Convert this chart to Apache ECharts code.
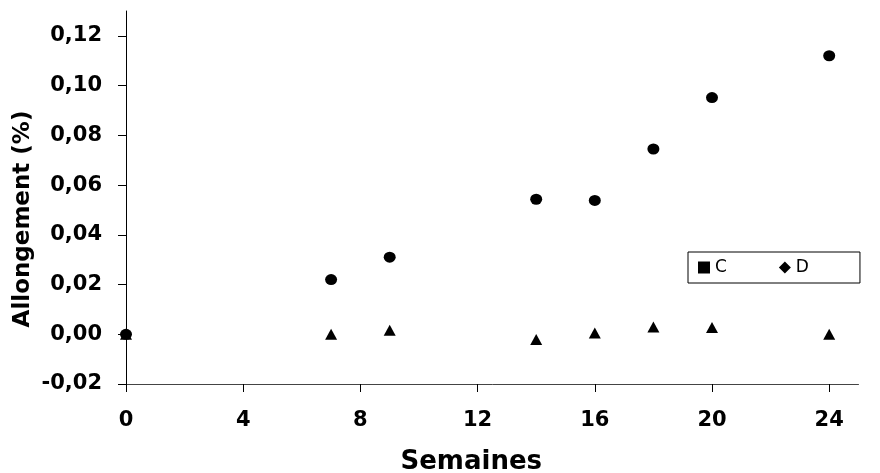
<!DOCTYPE html>
<html>
<head>
<meta charset="utf-8">
<script src="https://cdn.jsdelivr.net/npm/echarts@6/dist/echarts.min.js"></script>
<style>
html,body{margin:0;padding:0;background:#fff;}
#chart{width:880px;height:473px;}
</style>
</head>
<body>
<div id="chart"></div>
<script>
// Data
const weeks = [0, 7, 9, 14, 16, 18, 20, 24];
const seriesC = [0, 0.022, 0.031, 0.0543, 0.0538, 0.0745, 0.0952, 0.112];
const seriesD = [0, 0.0, 0.0016, -0.0021, 0.0005, 0.0029, 0.0027, 0.0];
const xTicks = [0, 4, 8, 12, 16, 20, 24];
const yTicks = [-0.02, 0, 0.02, 0.04, 0.06, 0.08, 0.10, 0.12];
const seriesNames = ['C', 'D'];

const FONT = 'DejaVu Sans';

function pairs(xs, ys) {
  return xs.map((x, i) => [x, ys[i]]);
}

const chart = echarts.init(document.getElementById('chart'), null, {renderer: 'canvas'});
chart.setOption({
  animation: false,
  backgroundColor: '#ffffff',
  grid: {left: 126, right: 21.5, top: 11, bottom: 89, containLabel: false, outerBoundsMode: 'none'},
  legend: {
    left: 688, top: 252,
    orient: 'horizontal',
    padding: [7, 51, 7, 10],
    itemGap: 52,
    itemWidth: 12, itemHeight: 12,
    borderColor: '#000', borderWidth: 1,
    backgroundColor: '#fff',
    textStyle: {fontFamily: FONT, fontSize: 17, color: '#000'},
    data: [
      {name: seriesNames[0], icon: 'rect'},
      {name: seriesNames[1], icon: 'diamond'}
    ]
  },
  xAxis: {
    type: 'value', min: 0, max: 25,
    name: 'Semaines',
    nameLocation: 'middle', nameGap: 65, nameMoveOverlap: false,
    nameTextStyle: {fontFamily: FONT, fontWeight: 'bold', fontSize: 26, color: '#000', padding: [0, 42, 0, 0]},
    axisLine: {show: true, onZero: false, lineStyle: {color: '#444', width: 1}},
    axisTick: {show: true, length: 8, inside: false, customValues: xTicks, lineStyle: {color: '#000'}},
    axisLabel: {
      customValues: xTicks, margin: 26,
      fontFamily: FONT, fontWeight: 'bold', fontSize: 21, color: '#000',
      formatter: v => String(v)
    },
    splitLine: {show: false}
  },
  yAxis: {
    type: 'value', min: -0.02, max: 0.13,
    name: 'Allongement (%)',
    nameLocation: 'middle', nameGap: 91, nameMoveOverlap: false,
    nameTextStyle: {fontFamily: FONT, fontWeight: 'bold', fontSize: 23, color: '#000', padding: [0, 43, 0, 0]},
    axisLine: {show: true, onZero: false, lineStyle: {color: '#000', width: 1}},
    axisTick: {show: true, length: 8, inside: false, customValues: yTicks, lineStyle: {color: '#000'}},
    axisLabel: {
      customValues: yTicks, margin: 24,
      fontFamily: FONT, fontWeight: 'bold', fontSize: 21, color: '#000',
      formatter: v => v.toFixed(2).replace('.', ',')
    },
    splitLine: {show: false}
  },
  series: [
    {
      name: seriesNames[0], type: 'scatter',
      symbol: 'circle', symbolSize: [12, 11],
      itemStyle: {color: '#000', opacity: 1},
      data: pairs(weeks, seriesC)
    },
    {
      name: seriesNames[1], type: 'scatter',
      symbol: 'triangle', symbolSize: [12, 11],
      itemStyle: {color: '#000', opacity: 1},
      data: pairs(weeks, seriesD)
    }
  ]
});
</script>
</body>
</html>
